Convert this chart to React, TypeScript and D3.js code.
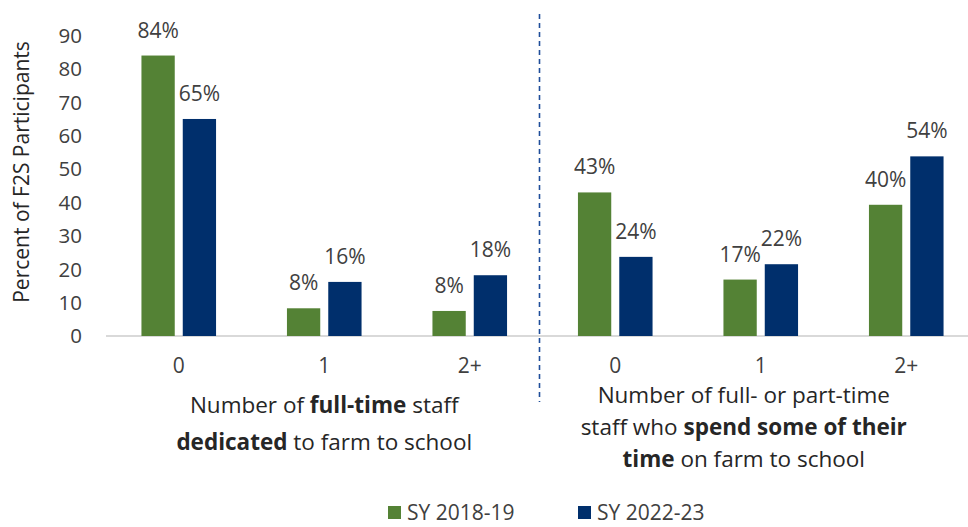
import React, { useRef, useEffect } from 'react';
import * as d3 from 'd3';

const groups = ['0', '1', '2+'];
const panels = ['left', 'right'];
const seriesNames = ['SY 2018-19', 'SY 2022-23'];
const seriesColors = ['#548235', '#002F6C'];
// bar heights
const sy2018 = [84, 8.3, 7.5, 43, 16.9, 39.3];
const sy2022 = [65, 16.2, 18.2, 23.7, 21.5, 53.8];
// printed labels
const label2018 = ['84%', '8%', '8%', '43%', '17%', '40%'];
const label2022 = ['65%', '16%', '18%', '24%', '22%', '54%'];
const yTicks = [0, 10, 20, 30, 40, 50, 60, 70, 80, 90];

const FONT = '"Open Sans", sans-serif';
const TEXT = '#404040';

const App: React.FC = () => {
  const svgRef = useRef<SVGSVGElement>(null);
  const width = 968;
  const height = 527;

  useEffect(() => {
    if (!svgRef.current) return;
    const svg = d3.select(svgRef.current);
    svg.selectAll('*').remove();

    const keys = panels.flatMap(p => groups.map(g => `${p}-${g}`));
    const x0 = d3.scaleBand().domain(keys).range([106, 979]);
    const innerW = 74.6;
    const x1 = d3.scaleBand().domain(seriesNames).range([0, innerW]).paddingInner(0.194);
    const y = d3.scaleLinear().domain([0, 90]).range([336, 35.5]);

    // y tick labels
    svg.append('g')
      .selectAll('text')
      .data(yTicks)
      .enter()
      .append('text')
      .attr('x', 82)
      .attr('y', d => y(d))
      .attr('dy', '0.36em')
      .attr('text-anchor', 'end')
      .style('font-family', FONT)
      .style('font-size', '20.5px')
      .style('fill', TEXT)
      .text(d => d);

    // y title
    svg.append('text')
      .attr('transform', `translate(29, ${172}) rotate(-90)`)
      .attr('text-anchor', 'middle')
      .style('font-family', FONT)
      .style('font-size', '21px')
      .style('fill', '#262626')
      .text('Percent of F2S Participants');

    // baseline
    svg.append('line')
      .attr('x1', 106)
      .attr('x2', width)
      .attr('y1', y(0))
      .attr('y2', y(0))
      .attr('stroke', '#d9d9d9')
      .attr('stroke-width', 2);

    const rows = keys.map((k, i) => ({
      key: k,
      group: groups[i % 3],
      vals: [sy2018[i], sy2022[i]],
      labels: [label2018[i], label2022[i]],
    }));

    const g = svg.append('g')
      .selectAll('g')
      .data(rows)
      .enter()
      .append('g')
      .attr('transform', d => `translate(${(x0(d.key) || 0) + (x0.bandwidth() - innerW) / 2}, 0)`);

    seriesNames.forEach((s, si) => {
      g.append('rect')
        .attr('x', x1(s) || 0)
        .attr('y', d => y(d.vals[si]))
        .attr('width', x1.bandwidth())
        .attr('height', d => y(0) - y(d.vals[si]))
        .attr('fill', seriesColors[si]);

      g.append('text')
        .attr('x', (x1(s) || 0) + x1.bandwidth() / 2)
        .attr('y', d => y(d.vals[si]) - 18)
        .attr('text-anchor', 'middle')
        .style('font-family', FONT)
        .style('font-size', '21px')
        .style('fill', TEXT)
        .text(d => d.labels[si]);
    });

    // category labels
    svg.append('g')
      .selectAll('text')
      .data(rows)
      .enter()
      .append('text')
      .attr('x', d => (x0(d.key) || 0) + x0.bandwidth() / 2)
      .attr('y', 373)
      .attr('text-anchor', 'middle')
      .style('font-family', FONT)
      .style('font-size', '21px')
      .style('fill', TEXT)
      .text(d => d.group);

    // panel divider
    const divX = (x0('right-0') || 0) - 3;
    svg.append('line')
      .attr('x1', divX)
      .attr('x2', divX)
      .attr('y1', 14)
      .attr('y2', 402)
      .attr('stroke', '#1F4E9A')
      .attr('stroke-width', 1.6)
      .attr('stroke-dasharray', '5,4');

    // panel titles with bold parts
    const drawTitle = (cx: number, lines: { y: number; parts: [string, boolean][] }[]) => {
      lines.forEach(line => {
        const t = svg.append('text')
          .attr('x', cx)
          .attr('y', line.y)
          .attr('text-anchor', 'middle')
          .style('font-family', FONT)
          .style('font-size', '22.5px')
          .style('fill', '#262626');
        line.parts.forEach(([txt, bold]) => {
          t.append('tspan')
            .style('font-weight', bold ? 'bold' : 'normal')
            .text(txt);
        });
      });
    };

    const leftCx = ((x0('left-0') || 0) + (x0('left-2+') || 0) + x0.bandwidth()) / 2;
    const rightCx = ((x0('right-0') || 0) + (x0('right-2+') || 0) + x0.bandwidth()) / 2 - 17;

    drawTitle(leftCx, [
      { y: 413, parts: [['Number of ', false], ['full-time', true], [' staff', false]] },
      { y: 450, parts: [['dedicated', true], [' to farm to school', false]] },
    ]);
    drawTitle(rightCx, [
      { y: 403, parts: [['Number of full- or part-time', false]] },
      { y: 435, parts: [['staff who ', false], ['spend some of their', true]] },
      { y: 467, parts: [['time', true], [' on farm to school', false]] },
    ]);

    // legend
    const legendX = [388, 578];
    seriesNames.forEach((s, i) => {
      svg.append('rect')
        .attr('x', legendX[i])
        .attr('y', 506)
        .attr('width', 13)
        .attr('height', 13)
        .attr('fill', seriesColors[i]);
      svg.append('text')
        .attr('x', legendX[i] + 19)
        .attr('y', 520)
        .style('font-family', FONT)
        .style('font-size', '21px')
        .style('fill', TEXT)
        .text(s);
    });
  }, []);

  return (
    <svg
      ref={svgRef}
      width={width}
      height={height}
      style={{ position: 'absolute', left: 0, top: 0, background: '#fff' }}
    />
  );
};

export default App;
